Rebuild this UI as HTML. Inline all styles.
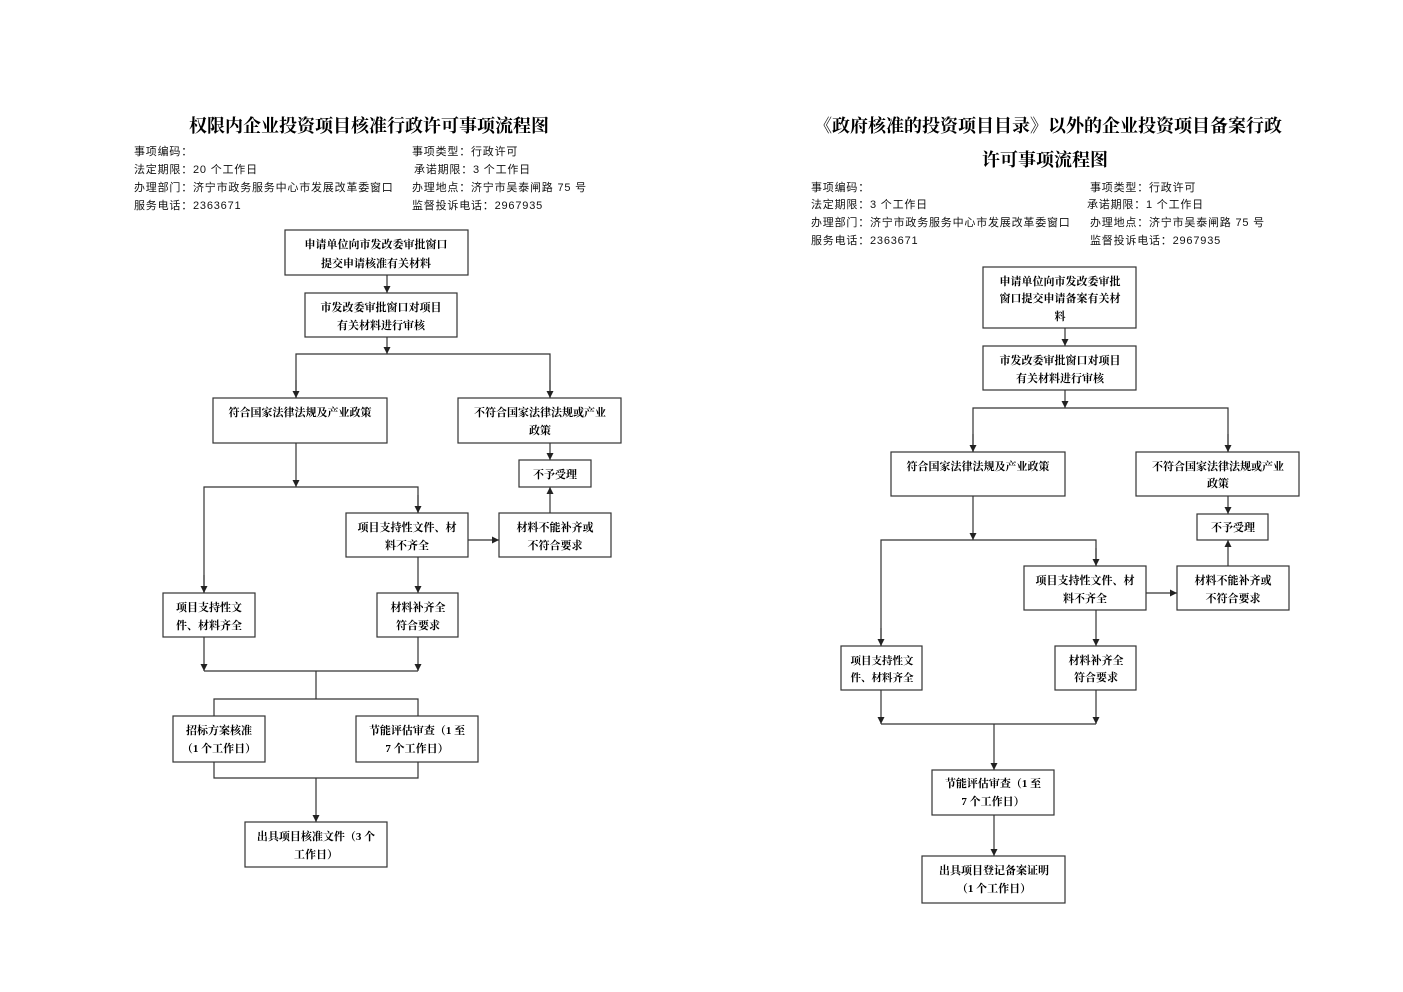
<!DOCTYPE html>
<html><head><meta charset="utf-8"><style>
html,body{margin:0;padding:0;background:#fff;}
svg{display:block;}
.t{font-family:"Liberation Serif","Noto Serif CJK SC",serif;font-weight:bold;font-size:18px;fill:#000;}
.i{font-family:"Liberation Sans","WenQuanYi Zen Hei",sans-serif;font-size:11px;fill:#111;letter-spacing:0.8px;}
.b{font-family:"Liberation Serif","Noto Serif CJK SC",serif;font-weight:bold;font-size:11px;fill:#000;text-anchor:middle;}
.s{font-size:10.5px;}
rect{fill:#fff;stroke:#333;stroke-width:1.2;}
line,polyline{stroke:#333;stroke-width:1.2;fill:none;}
</style></head><body>
<svg width="1403" height="992" viewBox="0 0 1403 992" xmlns="http://www.w3.org/2000/svg">
<defs><marker id="a" markerWidth="8" markerHeight="8" refX="7" refY="4" orient="auto" markerUnits="userSpaceOnUse"><path d="M0,0.5 L7,4 L0,7.5 Z" fill="#222"/></marker></defs>

<!-- LEFT -->
<text class="t" x="369" y="132" text-anchor="middle">权限内企业投资项目核准行政许可事项流程图</text>
<text class="i" x="134" y="155">事项编码：</text>
<text class="i" x="134" y="173">法定期限：20 个工作日</text>
<text class="i" x="134" y="191">办理部门：济宁市政务服务中心市发展改革委窗口</text>
<text class="i" x="134" y="209">服务电话：2363671</text>
<text class="i" x="412" y="155">事项类型：行政许可</text>
<text class="i" x="414" y="173">承诺期限：3 个工作日</text>
<text class="i" x="412" y="191">办理地点：济宁市吴泰闸路 75 号</text>
<text class="i" x="412" y="209">监督投诉电话：2967935</text>

<line x1="387" y1="275" x2="387" y2="293" marker-end="url(#a)"/>
<line x1="387" y1="337" x2="387" y2="354" marker-end="url(#a)"/>
<polyline points="296,398 296,354 550,354 550,398"/>
<line x1="296" y1="380" x2="296" y2="398" marker-end="url(#a)"/>
<line x1="550" y1="380" x2="550" y2="398" marker-end="url(#a)"/>
<line x1="296" y1="443" x2="296" y2="487" marker-end="url(#a)"/>
<polyline points="204,593 204,487 418,487 418,513"/>
<line x1="204" y1="575" x2="204" y2="593" marker-end="url(#a)"/>
<line x1="418" y1="495" x2="418" y2="513" marker-end="url(#a)"/>
<line x1="550" y1="443" x2="550" y2="460" marker-end="url(#a)"/>
<line x1="550" y1="513" x2="550" y2="487" marker-end="url(#a)"/>
<line x1="468" y1="540" x2="499" y2="540" marker-end="url(#a)"/>
<line x1="418" y1="557" x2="418" y2="593" marker-end="url(#a)"/>
<line x1="204" y1="637" x2="204" y2="671" marker-end="url(#a)"/>
<line x1="418" y1="637" x2="418" y2="671" marker-end="url(#a)"/>
<line x1="204" y1="671" x2="418" y2="671"/>
<line x1="316" y1="671" x2="316" y2="699"/>
<polyline points="214,716 214,699 418,699 418,716"/>
<polyline points="214,762 214,778 418,778 418,762"/>
<line x1="316" y1="778" x2="316" y2="822" marker-end="url(#a)"/>

<rect x="285" y="230" width="183" height="45"/>
<text class="b" x="376" y="248">申请单位向市发改委审批窗口</text>
<text class="b" x="376" y="267">提交申请核准有关材料</text>
<rect x="305" y="293" width="152" height="44"/>
<text class="b" x="381" y="311">市发改委审批窗口对项目</text>
<text class="b" x="381" y="329">有关材料进行审核</text>
<rect x="213" y="398" width="174" height="45"/>
<text class="b" x="300" y="416">符合国家法律法规及产业政策</text>
<rect x="458" y="398" width="163" height="45"/>
<text class="b" x="540" y="416">不符合国家法律法规或产业</text>
<text class="b" x="540" y="434">政策</text>
<rect x="519" y="460" width="72" height="27"/>
<text class="b" x="555" y="478">不予受理</text>
<rect x="346" y="513" width="122" height="44"/>
<text class="b" x="407" y="531">项目支持性文件、材</text>
<text class="b" x="407" y="549">料不齐全</text>
<rect x="499" y="513" width="112" height="44"/>
<text class="b" x="555" y="531">材料不能补齐或</text>
<text class="b" x="555" y="549">不符合要求</text>
<rect x="163" y="593" width="92" height="44"/>
<text class="b" x="209" y="611">项目支持性文</text>
<text class="b" x="209" y="629">件、材料齐全</text>
<rect x="377" y="593" width="81" height="44"/>
<text class="b" x="418" y="611">材料补齐全</text>
<text class="b" x="418" y="629">符合要求</text>
<rect x="173" y="716" width="92" height="46"/>
<text class="b" x="219" y="734">招标方案核准</text>
<text class="b" x="219" y="752">（1 个工作日）</text>
<rect x="356" y="716" width="122" height="46"/>
<text class="b" x="417" y="734">节能评估审查（1 至</text>
<text class="b" x="417" y="752">7 个工作日）</text>
<rect x="245" y="822" width="142" height="45"/>
<text class="b" x="316" y="840">出具项目核准文件（3 个</text>
<text class="b" x="316" y="858">工作日）</text>

<!-- RIGHT -->
<text class="t" x="1048" y="132" text-anchor="middle">《政府核准的投资项目目录》以外的企业投资项目备案行政</text>
<text class="t" x="1045" y="166" text-anchor="middle">许可事项流程图</text>
<text class="i" x="811" y="191">事项编码：</text>
<text class="i" x="811" y="208">法定期限：3 个工作日</text>
<text class="i" x="811" y="226">办理部门：济宁市政务服务中心市发展改革委窗口</text>
<text class="i" x="811" y="244">服务电话：2363671</text>
<text class="i" x="1090" y="191">事项类型：行政许可</text>
<text class="i" x="1087" y="208">承诺期限：1 个工作日</text>
<text class="i" x="1090" y="226">办理地点：济宁市吴泰闸路 75 号</text>
<text class="i" x="1090" y="244">监督投诉电话：2967935</text>

<line x1="1065" y1="328" x2="1065" y2="346" marker-end="url(#a)"/>
<line x1="1065" y1="390" x2="1065" y2="408" marker-end="url(#a)"/>
<polyline points="973,452 973,408 1228,408 1228,452"/>
<line x1="973" y1="434" x2="973" y2="452" marker-end="url(#a)"/>
<line x1="1228" y1="434" x2="1228" y2="452" marker-end="url(#a)"/>
<line x1="973" y1="496" x2="973" y2="540" marker-end="url(#a)"/>
<polyline points="881,646 881,540 1096,540 1096,566"/>
<line x1="881" y1="628" x2="881" y2="646" marker-end="url(#a)"/>
<line x1="1096" y1="548" x2="1096" y2="566" marker-end="url(#a)"/>
<line x1="1228" y1="496" x2="1228" y2="514" marker-end="url(#a)"/>
<line x1="1228" y1="566" x2="1228" y2="540" marker-end="url(#a)"/>
<line x1="1146" y1="593" x2="1177" y2="593" marker-end="url(#a)"/>
<line x1="1096" y1="610" x2="1096" y2="646" marker-end="url(#a)"/>
<line x1="881" y1="690" x2="881" y2="724" marker-end="url(#a)"/>
<line x1="1096" y1="690" x2="1096" y2="724" marker-end="url(#a)"/>
<line x1="881" y1="724" x2="1096" y2="724"/>
<line x1="994" y1="724" x2="994" y2="770" marker-end="url(#a)"/>
<line x1="994" y1="815" x2="994" y2="856" marker-end="url(#a)"/>

<rect x="983" y="267" width="153" height="61"/>
<text class="b" x="1060" y="285">申请单位向市发改委审批</text>
<text class="b" x="1060" y="302">窗口提交申请备案有关材</text>
<text class="b" x="1060" y="320">料</text>
<rect x="983" y="346" width="153" height="44"/>
<text class="b" x="1060" y="364">市发改委审批窗口对项目</text>
<text class="b" x="1060" y="382">有关材料进行审核</text>
<rect x="891" y="452" width="174" height="44"/>
<text class="b" x="978" y="470">符合国家法律法规及产业政策</text>
<rect x="1136" y="452" width="163" height="44"/>
<text class="b" x="1218" y="470">不符合国家法律法规或产业</text>
<text class="b" x="1218" y="487">政策</text>
<rect x="1197" y="514" width="71" height="26"/>
<text class="b" x="1233" y="531">不予受理</text>
<rect x="1024" y="566" width="122" height="44"/>
<text class="b" x="1085" y="584">项目支持性文件、材</text>
<text class="b" x="1085" y="602">料不齐全</text>
<rect x="1177" y="566" width="112" height="44"/>
<text class="b" x="1233" y="584">材料不能补齐或</text>
<text class="b" x="1233" y="602">不符合要求</text>
<rect x="841" y="646" width="81" height="44"/>
<text class="b s" x="882" y="664">项目支持性文</text>
<text class="b s" x="882" y="681">件、材料齐全</text>
<rect x="1055" y="646" width="81" height="44"/>
<text class="b" x="1096" y="664">材料补齐全</text>
<text class="b" x="1096" y="681">符合要求</text>
<rect x="932" y="770" width="122" height="45"/>
<text class="b" x="993" y="787">节能评估审查（1 至</text>
<text class="b" x="993" y="805">7 个工作日）</text>
<rect x="922" y="856" width="143" height="47"/>
<text class="b" x="994" y="874">出具项目登记备案证明</text>
<text class="b" x="994" y="892">（1 个工作日）</text>
</svg>
</body></html>
